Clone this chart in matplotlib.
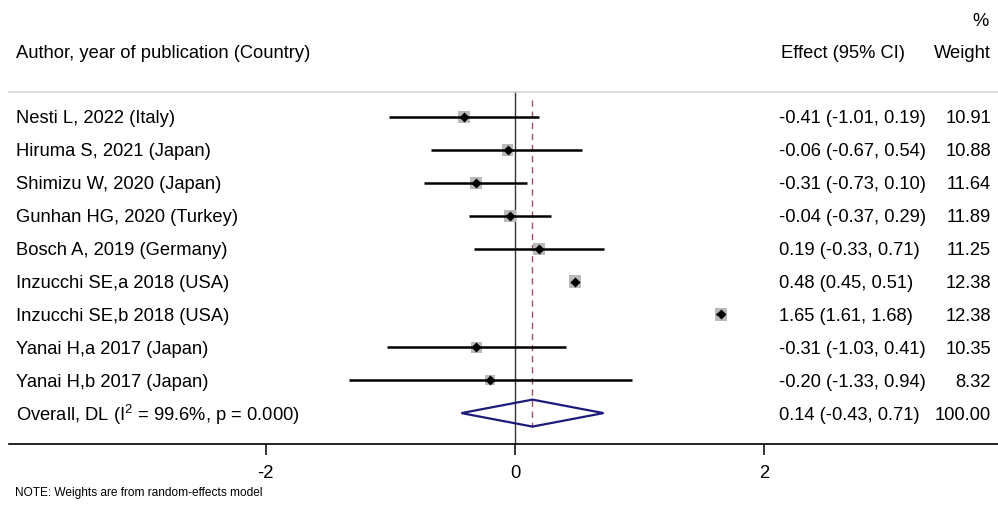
import matplotlib
matplotlib.use("Agg")
import matplotlib.pyplot as plt
import numpy as np

plt.rcParams['font.family'] = ['Liberation Sans', 'DejaVu Sans']
plt.rcParams['mathtext.fontset'] = 'custom'
plt.rcParams['mathtext.rm'] = 'Liberation Sans'
plt.rcParams['mathtext.it'] = 'Liberation Sans'
plt.rcParams['mathtext.default'] = 'regular'

studies = ["Nesti L, 2022 (Italy)", "Hiruma S, 2021 (Japan)", "Shimizu W, 2020 (Japan)",
           "Gunhan HG, 2020 (Turkey)", "Bosch A, 2019 (Germany)", "Inzucchi SE,a 2018 (USA)",
           "Inzucchi SE,b 2018 (USA)", "Yanai H,a 2017 (Japan)", "Yanai H,b 2017 (Japan)"]
effect = [-0.41, -0.06, -0.31, -0.04, 0.19, 0.48, 1.65, -0.31, -0.20]
lower = [-1.01, -0.67, -0.73, -0.37, -0.33, 0.45, 1.61, -1.03, -1.33]
upper = [0.19, 0.54, 0.10, 0.29, 0.71, 0.51, 1.68, 0.41, 0.94]
weight = [10.91, 10.88, 11.64, 11.89, 11.25, 12.38, 12.38, 10.35, 8.32]
overall_label = r"Overall, DL (I$^{\mathbf{}2}$ = 99.6%, p = 0.000)"
overall_label = r"Overall, DL (I$^{2}$ = 99.6%, p = 0.000)"
overall_effect, overall_lower, overall_upper, overall_weight = 0.14, -0.43, 0.71, 100.00
xticks = [-2, 0, 2]

W, H = 998, 507
fig = plt.figure(figsize=(W / 100, H / 100), dpi=100)
ax = fig.add_axes([9 / W, (H - 444) / H, 989 / W, (444 - 92) / H])

x_px0, x_scale = 515, 124.7
ax.set_xlim((9 - x_px0) / x_scale, (998 - x_px0) / x_scale)
row0, row_h = 117, 32.9
ax.set_ylim((444 - row0) / row_h, (92 - row0) / row_h)

fs = 13.2
for s in ['left', 'right']:
    ax.spines[s].set_visible(False)
ax.spines['top'].set_color('#d4d4d4')
ax.spines['top'].set_linewidth(1.2)
ax.spines['bottom'].set_color('black')
ax.spines['bottom'].set_linewidth(1.2)
ax.set_yticks([])
ax.set_xticks(xticks)
ax.set_xticklabels([str(t) for t in xticks], fontsize=fs)
ax.tick_params(axis='x', length=8, width=1.1, pad=7)

n = len(studies)
rows = np.arange(n)

# reference line at zero
ax.axvline(0, color='#333333', lw=1.0, zorder=1)
# overall dashed line
ax.plot([overall_effect, overall_effect], [-0.52, n + 0.42], color='#a0505f',
        lw=1.0, ls=(0, (4.5, 3.5)), zorder=2)

for i in range(n):
    ax.plot([lower[i], upper[i]], [rows[i], rows[i]], color='black', lw=1.8,
            solid_capstyle='butt', zorder=3)
side = 12.0 * np.sqrt(np.array(weight) / 11.5) * 0.72
ax.scatter(effect, rows, marker='s', s=side ** 2, color='#bababa', zorder=2.5, linewidths=0)
ax.scatter(effect, rows, marker='D', s=26, color='black', zorder=4, linewidths=0)

# overall diamond
dh = 0.41
ax.fill([overall_lower, overall_effect, overall_upper, overall_effect, overall_lower],
        [n, n - dh, n, n + dh, n], facecolor='none', edgecolor='#1b1b7a', lw=1.6, zorder=5)

trans_left = matplotlib.transforms.blended_transform_factory(fig.transFigure, ax.transData)
labels = studies + [overall_label]
eff_texts = [f"{e:.2f} ({l:.2f}, {u:.2f})" for e, l, u in zip(effect, lower, upper)]
eff_texts.append(f"{overall_effect:.2f} ({overall_lower:.2f}, {overall_upper:.2f})")
w_texts = [f"{w:.2f}" for w in weight] + [f"{overall_weight:.2f}"]
dy = 2.0 / row_h
for i in range(n + 1):
    ax.text(16 / W, i + dy, labels[i], transform=trans_left, ha='left', va='center', fontsize=fs)
    ax.text(779 / W, i + dy, eff_texts[i], transform=trans_left, ha='left', va='center', fontsize=fs)
    ax.text(991 / W, i + dy, w_texts[i], transform=trans_left, ha='right', va='center', fontsize=fs)

fig.text(16 / W, 1 - 54 / H, "Author, year of publication (Country)", ha='left', va='center', fontsize=fs)
fig.text(781 / W, 1 - 54 / H, "Effect (95% CI)", ha='left', va='center', fontsize=fs)
fig.text(991 / W, 1 - 54 / H, "Weight", ha='right', va='center', fontsize=fs)
fig.text(989 / W, 1 - 21 / H, "%", ha='right', va='center', fontsize=fs)
fig.text(15 / W, 1 - 493 / H, "NOTE: Weights are from random-effects model", ha='left', va='center', fontsize=8.6)

fig.savefig("out.png", dpi=100)
